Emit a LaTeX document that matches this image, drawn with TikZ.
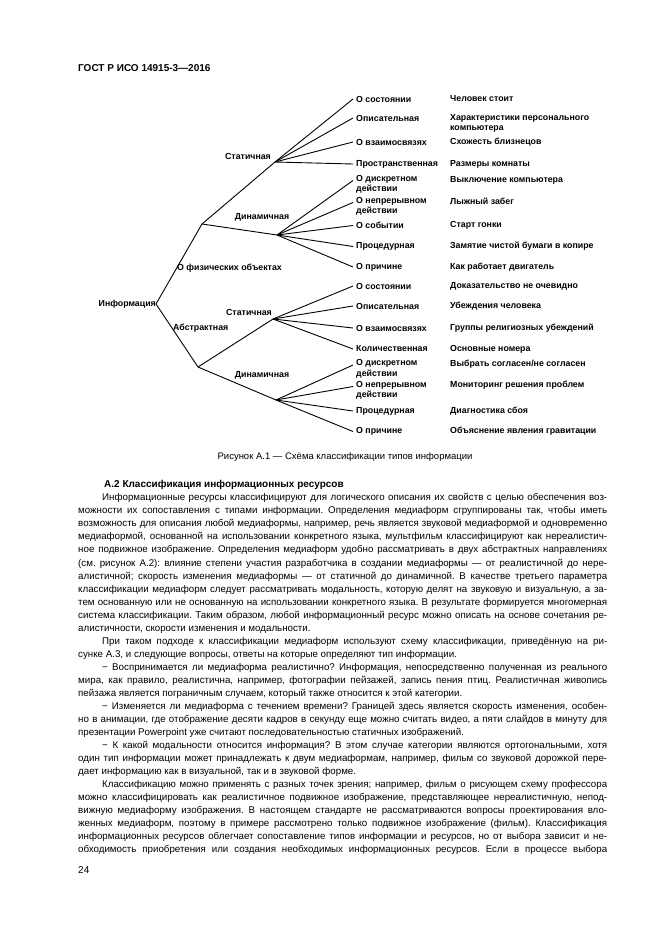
\documentclass[tikz,border=0pt]{standalone}
\usepackage{fontspec}
\setmainfont{Liberation Sans}
\frenchspacing
\begin{document}
\begin{tikzpicture}[x=1pt,y=-1pt,
  branch/.style={line width=0.9pt},
  leaf/.style={anchor=west,inner xsep=3pt,inner ysep=1pt,align=left,
    font=\fontsize{8.8}{10.5}\selectfont\bfseries},
  example/.style={anchor=west,inner sep=0pt,align=left,
    font=\fontsize{8.8}{10.5}\selectfont\bfseries},
  tag/.style={inner sep=0pt,font=\fontsize{8.8}{10.5}\selectfont\bfseries},
  body/.style={anchor=north west,inner sep=0pt,text width=529pt,align=justify,
    font=\fontsize{9.75}{13.04}\selectfont}]
  % Page
  \useasboundingbox (0,0) rectangle (661,935);
  \fill[white] (0,0) rectangle (661,935);
  % Running head
  \node[anchor=west,inner sep=0pt,font=\fontsize{10}{12}\selectfont\bfseries]
    (head) at (78,68) {ГОСТ Р ИСО 14915-3—2016};
  % Root and main branches
  \node[tag,anchor=east] (info) at (156,304) {Информация};
  \coordinate (phys) at (202,224);
  \coordinate (abst) at (198,367);
  \draw[branch] (info.east) -- (phys);
  \draw[branch] (info.east) -- (abst);
  \node[tag,anchor=west] (physlbl) at (177,268) {О физических объектах};
  \node[tag,anchor=west] (abstlbl) at (173,328) {Абстрактная};
  % Static / dynamic junctions
  \coordinate (s1) at (275,162);
  \coordinate (d1) at (277,235);
  \coordinate (s2) at (273,319);
  \coordinate (d2) at (276,400);
  \draw[branch] (phys) -- (s1);
  \draw[branch] (phys) -- (d1);
  \draw[branch] (abst) -- (s2);
  \draw[branch] (abst) -- (d2);
  \node[tag] (s1lbl) at (248,156) {Статичная};
  \node[tag] (d1lbl) at (262,217) {Динамичная};
  \node[tag] (s2lbl) at (249,312) {Статичная};
  \node[tag] (d2lbl) at (262,375) {Динамичная};
  % Leaves of the physical static branch
  \foreach \n/\y/\sh/\ey/\lbl/\ex in {
    ps1/99/0/99/{О состоянии}/{Человек стоит},
    ps2/118/0/123.5/{Описательная}/{Характеристики персонального\\компьютера},
    ps3/142/0/142/{О взаимосвязях}/{Схожесть близнецов},
    ps4/164/0/164/{Пространственная}/{Размеры комнаты}} {
    \node[leaf] (\n) at (353,\y) {\lbl};
    \node[example] (\n ex) at (450,\ey) {\ex};
    \draw[branch] (s1) -- ([yshift=\sh pt]\n.west);
  }
  % Leaves of the physical dynamic branch
  \foreach \n/\y/\sh/\ey/\lbl/\ex in {
    pd1/184.5/4/180/{О дискретном\\действии}/{Выключение компьютера},
    pd2/206.5/4/201.5/{О непрерывном\\действии}/{Лыжный забег},
    pd3/225.5/0/225.5/{О событии}/{Старт гонки},
    pd4/246.5/0/246.5/{Процедурная}/{Замятие чистой бумаги в копире},
    pd5/267/0/267/{О причине}/{Как работает двигатель}} {
    \node[leaf] (\n) at (353,\y) {\lbl};
    \node[example] (\n ex) at (450,\ey) {\ex};
    \draw[branch] (d1) -- ([yshift=\sh pt]\n.west);
  }
  % Leaves of the abstract static branch
  \foreach \n/\y/\sh/\ey/\lbl/\ex in {
    as1/286/0/286/{О состоянии}/{Доказательство не очевидно},
    as2/306/0/306/{Описательная}/{Убеждения человека},
    as3/328/0/328/{О взаимосвязях}/{Группы религиозных убеждений},
    as4/349/0/349/{Количественная}/{Основные номера}} {
    \node[leaf] (\n) at (353,\y) {\lbl};
    \node[example] (\n ex) at (450,\ey) {\ex};
    \draw[branch] (s2) -- ([yshift=\sh pt]\n.west);
  }
  % Leaves of the abstract dynamic branch
  \foreach \n/\y/\sh/\ey/\lbl/\ex in {
    ad1/369/4/364/{О дискретном\\действии}/{Выбрать согласен/не согласен},
    ad2/390.5/4/385.5/{О непрерывном\\действии}/{Мониторинг решения проблем},
    ad3/411/0/411/{Процедурная}/{Диагностика сбоя},
    ad4/431.5/0/431.5/{О причине}/{Объяснение явления гравитации}} {
    \node[leaf] (\n) at (353,\y) {\lbl};
    \node[example] (\n ex) at (450,\ey) {\ex};
    \draw[branch] (d2) -- ([yshift=\sh pt]\n.west);
  }
  % Caption
  \node[inner sep=0pt,font=\fontsize{9.5}{11}\selectfont] (caption) at (345,457)
    {Рисунок А.1 — Схёма классификации типов информации};
  % Section heading
  \node[anchor=west,inner sep=0pt,font=\fontsize{10}{12}\selectfont\bfseries]
    (sect) at (104,485) {А.2 Классификация информационных ресурсов};
  % Body text, line breaks as printed
  \node[body] (text) at (78,491.5) {\tolerance=10000\hbadness=10000\parindent=0pt\frenchspacing
    \strut\hspace*{24pt}Информационные ресурсы классифицируют для логического описания их свойств с целью обеспечения воз-\linebreak
    можности их сопоставления с типами информации. Определения медиаформ сгруппированы так, чтобы иметь\linebreak
    возможность для описания любой медиаформы, например, речь является звуковой медиаформой и одновременно\linebreak
    медиаформой, основанной на использовании конкретного языка, мультфильм классифицируют как нереалистич-\linebreak
    ное подвижное изображение. Определения медиаформ удобно рассматривать в двух абстрактных направлениях\linebreak
    (см. рисунок А.2): влияние степени участия разработчика в создании медиаформы — от реалистичной до нере-\linebreak
    алистичной; скорость изменения медиаформы — от статичной до динамичной. В качестве третьего параметра\linebreak
    классификации медиаформ следует рассматривать модальность, которую делят на звуковую и визуальную, а за-\linebreak
    тем основанную или не основанную на использовании конкретного языка. В результате формируется многомерная\linebreak
    система классификации. Таким образом, любой информационный ресурс можно описать на основе сочетания ре-\linebreak
    алистичности, скорости изменения и модальности.\par
    \hspace*{24pt}При таком подходе к классификации медиаформ используют схему классификации, приведённую на ри-\linebreak
    сунке А.3, и следующие вопросы, ответы на которые определяют тип информации.\par
    \hspace*{24pt}− Воспринимается ли медиаформа реалистично? Информация, непосредственно полученная из реального\linebreak
    мира, как правило, реалистична, например, фотографии пейзажей, запись пения птиц. Реалистичная живопись\linebreak
    пейзажа является пограничным случаем, который также относится к этой категории.\par
    \hspace*{24pt}− Изменяется ли медиаформа с течением времени? Границей здесь является скорость изменения, особен-\linebreak
    но в анимации, где отображение десяти кадров в секунду еще можно считать видео, а пяти слайдов в минуту для\linebreak
    презентации Powerpoint уже считают последовательностью статичных изображений.\par
    \hspace*{24pt}− К какой модальности относится информация? В этом случае категории являются ортогональными, хотя\linebreak
    один тип информации может принадлежать к двум медиаформам, например, фильм со звуковой дорожкой пере-\linebreak
    дает информацию как в визуальной, так и в звуковой форме.\par
    \hspace*{24pt}Классификацию можно применять с разных точек зрения; например, фильм о рисующем схему профессора\linebreak
    можно классифицировать как реалистичное подвижное изображение, представляющее нереалистичную, непод-\linebreak
    вижную медиаформу изображения. В настоящем стандарте не рассматриваются вопросы проектирования вло-\linebreak
    женных медиаформ, поэтому в примере рассмотрено только подвижное изображение (фильм). Классификация\linebreak
    информационных ресурсов облегчает сопоставление типов информации и ресурсов, но от выбора зависит и не-\linebreak
    обходимость приобретения или создания необходимых информационных ресурсов. Если в процессе выбора\parfillskip=0pt\par};
  % Page number
  \node[anchor=west,inner sep=0pt,font=\fontsize{10}{12}\selectfont] (page) at (78,870) {24};
\end{tikzpicture}
\end{document}
